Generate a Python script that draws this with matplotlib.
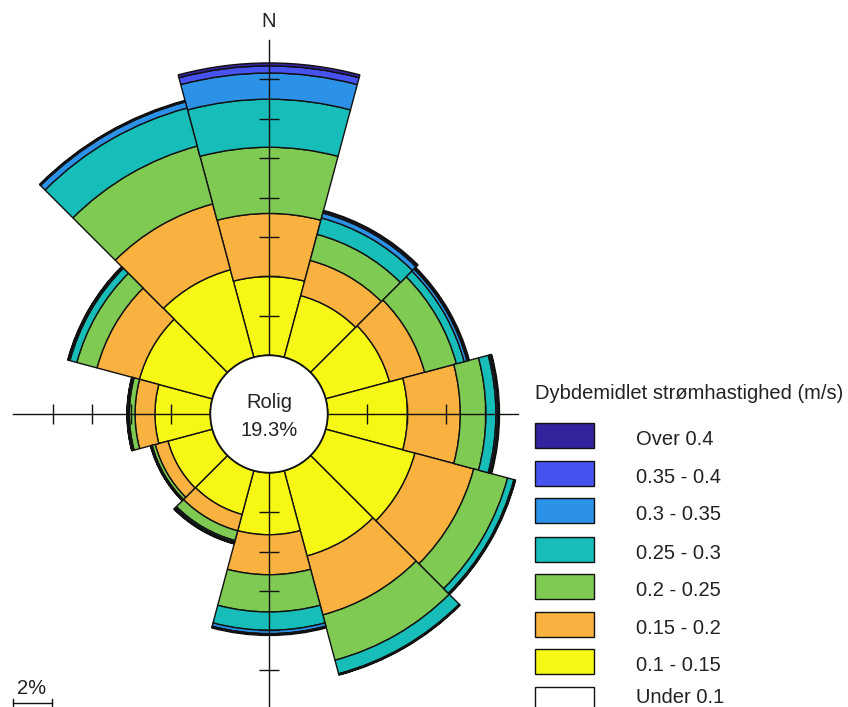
import numpy as np
import matplotlib
matplotlib.use("Agg")
import matplotlib.pyplot as plt
from matplotlib.patches import Circle, Rectangle

plt.rcParams['font.family'] = ['Liberation Sans', 'DejaVu Sans']

# ---------------- data ----------------
directions = [0, 30, 60, 90, 120, 150, 180, 210, 240, 270, 300, 330]  # degrees (sector centres)
classes = ["Over 0.4", "0.35 - 0.4", "0.3 - 0.35", "0.25 - 0.3",
           "0.2 - 0.25", "0.15 - 0.2", "0.1 - 0.15", "Under 0.1"]
# frequency (%) per sector for each speed class
v_010_015 = [4.00, 3.24, 3.35, 4.05, 4.69, 4.48, 3.15, 2.30, 2.33, 2.81, 3.83, 4.60]
v_015_020 = [3.20, 1.85, 1.85, 2.68, 3.09, 3.10, 2.03, 0.86, 0.67, 1.01, 2.23, 3.46]
v_020_025 = [3.36, 1.37, 1.67, 1.30, 1.78, 2.38, 1.89, 0.51, 0.16, 0.29, 1.06, 3.04]
v_025_030 = [2.44, 0.86, 0.41, 0.51, 0.33, 0.71, 0.93, 0.08, 0.04, 0.07, 0.36, 2.00]
v_030_035 = [1.33, 0.26, 0.15, 0.08, 0.04, 0.03, 0.17, 0.05, 0.02, 0.02, 0.07, 0.32]
v_035_040 = [0.36, 0.08, 0.07, 0.06, 0.03, 0.02, 0.05, 0.03, 0.02, 0.02, 0.03, 0.04]
v_over_040 = [0.15, 0.06, 0.05, 0.04, 0.02, 0.02, 0.04, 0.02, 0.01, 0.01, 0.02, 0.04]
calm_pct = 19.3

legend_title = "Dybdemidlet strømhastighed (m/s)"
colors = ["#33239c", "#4753ee", "#2b92e8", "#17bdb8",
          "#7fca52", "#f9b23f", "#f7f716", "#ffffff"]

# ---------------- layout ----------------
W, H = 848, 707
CX, CY = 269, 414          # centre of rose in pixels
PX_PER_PCT = 19.7
R0 = 2.98                  # radius of calm circle in % units
RMAX = 20.0

fig = plt.figure(figsize=(W / 100, H / 100), dpi=100)
rad_px = RMAX * PX_PER_PCT
ax = fig.add_axes([(CX - rad_px) / W, (H - CY - rad_px) / H, 2 * rad_px / W, 2 * rad_px / H],
                  projection='polar')
ax.set_theta_zero_location('N')
ax.set_theta_direction(-1)
ax.set_ylim(0, RMAX)
ax.axis('off')
ax.patch.set_alpha(0)

theta = np.radians(directions)
width = np.radians(30)
series = [v_010_015, v_015_020, v_020_025, v_025_030, v_030_035, v_035_040, v_over_040]
series_colors = [colors[6], colors[5], colors[4], colors[3], colors[2], colors[1], colors[0]]
cum = np.zeros(len(directions))
for vals, col in zip(series, series_colors):
    vals = np.array(vals)
    ax.bar(theta, vals, width=width, bottom=R0 + cum, color=col,
           edgecolor='#111111', linewidth=1.0, align='center', zorder=2)
    cum += vals

# cross axes with ticks
axis_len = {0: 16.0, 90: 9.66, 180: 17.0, 270: 10.0}
tick_pcts = {0: [2, 4, 6, 8, 10, 12, 14], 90: [2, 4, 6, 8],
             180: [2, 4, 6, 8, 10, 12, 14], 270: [2, 4, 6, 8]}
for ang, L in axis_len.items():
    t = np.radians(ang)
    ax.plot([t, t], [R0, R0 + L], color='#111111', lw=1.0, zorder=3, clip_on=False)
    marker = '_' if ang in (0, 180) else '|'
    tp = np.array(tick_pcts[ang]) + R0
    ax.plot(np.full(len(tp), t), tp, linestyle='none', marker=marker,
            markersize=14.4, markeredgewidth=1.0, color='#111111', zorder=3, clip_on=False)

ax.add_patch(Circle((0.5, 0.5), R0 / (2 * RMAX), transform=ax.transAxes,
                    facecolor='white', edgecolor='#111111', lw=1.3, zorder=5))

# overlay in pixel coordinates
ov = fig.add_axes([0, 0, 1, 1])
ov.set_xlim(0, W)
ov.set_ylim(H, 0)
ov.axis('off')
ov.patch.set_alpha(0)

txt_col = '#222222'
fs = 14.5
ov.text(CX, 408, "Rolig", ha='center', va='baseline', fontsize=fs, color=txt_col)
ov.text(CX, 436, f"{calm_pct}%", ha='center', va='baseline', fontsize=fs, color=txt_col)
ov.text(CX, 27, "N", ha='center', va='baseline', fontsize=fs, color=txt_col)

# scale bar
sb = 2 * PX_PER_PCT
x0 = 12.7
ov.plot([x0, x0 + sb], [703, 703], color='#111111', lw=1.0)
ov.plot([x0, x0], [699, 707], color='#111111', lw=1.0)
ov.plot([x0 + sb, x0 + sb], [699, 707], color='#111111', lw=1.0)
ov.text(x0 + sb / 2 - 1, 694, "2%", ha='center', va='baseline', fontsize=fs, color=txt_col)

# legend
ov.text(535, 399, legend_title, ha='left', va='baseline', fontsize=fs, color=txt_col)
tops = [423, 461, 498, 537, 574, 612, 649, 687]
for i, (lab, col, top) in enumerate(zip(classes, colors, tops)):
    ov.add_patch(Rectangle((535, top), 59, 25, facecolor=col, edgecolor='#111111',
                           lw=1.0, clip_on=False))
    base = top + 22 if i < len(classes) - 1 else 703
    ov.text(636, base, lab, ha='left', va='baseline', fontsize=fs, color=txt_col)

fig.savefig("out.png", dpi=100)
